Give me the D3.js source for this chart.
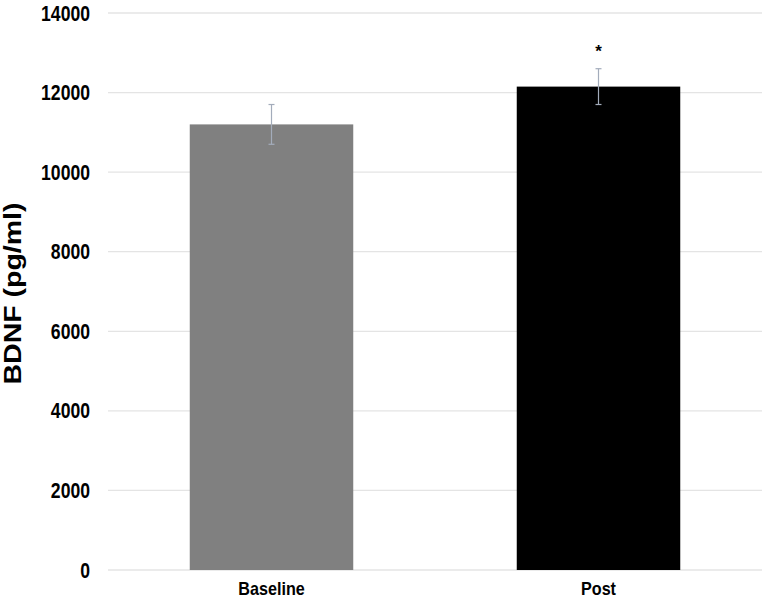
<!DOCTYPE html>
<html>
<head>
<meta charset="utf-8">
<script src="https://cdn.jsdelivr.net/npm/d3@7"></script>
<style>
  body { margin: 0; background: #fff; }
  .tick text { font-family: "Liberation Sans", Arial, sans-serif; font-weight: bold; }
</style>
</head>
<body>
<div id="chart"></div>
<script>
// data
var groups = ["Baseline", "Post"];
var means = [11200, 12150];
var errors = [500, 450];
var colors = ["#808080", "#000000"];
var marks = ["", "*"];
var yTicks = [0, 2000, 4000, 6000, 8000, 10000, 12000, 14000];

var W = 762, H = 604;
var margin = {top: 13, right: 0, bottom: 34, left: 108},
    width = W - margin.left - margin.right,
    height = H - margin.top - margin.bottom;

var svg = d3.select("#chart")
  .append("svg")
  .attr("width", W)
  .attr("height", H)
  .append("g")
  .attr("transform", "translate(" + margin.left + "," + margin.top + ")");

var y = d3.scaleLinear().domain([0, 14000]).range([height, 0]);
var x = d3.scaleBand().domain(groups).range([0, width]).paddingInner(0.5).paddingOuter(0.25);

// squeeze text to look like a narrow font
function narrow(sel, k) {
  sel.each(function() {
    var len = this.getComputedTextLength();
    d3.select(this).attr("textLength", len * k).attr("lengthAdjust", "spacingAndGlyphs");
  });
}

// gridlines
svg.selectAll("line.grid")
  .data(yTicks)
  .enter()
  .append("line")
    .attr("class", "grid")
    .attr("x1", 0)
    .attr("x2", width)
    .attr("y1", function(d) { return y(d); })
    .attr("y2", function(d) { return y(d); })
    .attr("stroke", "#e4e4e4")
    .attr("stroke-width", 1.3);

// y axis labels
var yAxis = svg.append("g")
  .call(d3.axisLeft(y).tickValues(yTicks).tickSize(0).tickPadding(18).tickFormat(d3.format("d")));
yAxis.select(".domain").remove();
yAxis.selectAll("text").style("font-size", "22px").attr("fill", "#000").call(narrow, 0.8);

// bars
svg.selectAll("rect.bar")
  .data(groups)
  .enter()
  .append("rect")
    .attr("class", "bar")
    .attr("x", function(d) { return x(d); })
    .attr("width", x.bandwidth())
    .attr("y", function(d, i) { return y(means[i]); })
    .attr("height", function(d, i) { return height - y(means[i]); })
    .attr("fill", function(d, i) { return colors[i]; });

// error bars
var eb = svg.selectAll("g.err")
  .data(groups)
  .enter()
  .append("g")
    .attr("class", "err")
    .attr("stroke", "#a3acbb")
    .attr("stroke-width", 1.2);

eb.append("line")
  .attr("x1", function(d) { return x(d) + x.bandwidth() / 2; })
  .attr("x2", function(d) { return x(d) + x.bandwidth() / 2; })
  .attr("y1", function(d, i) { return y(means[i] + errors[i]); })
  .attr("y2", function(d, i) { return y(means[i] - errors[i]); });

eb.append("line")
  .attr("x1", function(d) { return x(d) + x.bandwidth() / 2 - 3; })
  .attr("x2", function(d) { return x(d) + x.bandwidth() / 2 + 3; })
  .attr("y1", function(d, i) { return y(means[i] + errors[i]); })
  .attr("y2", function(d, i) { return y(means[i] + errors[i]); });

eb.append("line")
  .attr("x1", function(d) { return x(d) + x.bandwidth() / 2 - 3; })
  .attr("x2", function(d) { return x(d) + x.bandwidth() / 2 + 3; })
  .attr("y1", function(d, i) { return y(means[i] - errors[i]); })
  .attr("y2", function(d, i) { return y(means[i] - errors[i]); });

// significance marks
svg.selectAll("text.sig")
  .data(groups)
  .enter()
  .append("text")
    .attr("class", "sig")
    .attr("x", function(d) { return x(d) + x.bandwidth() / 2; })
    .attr("y", function(d, i) { return y(means[i] + errors[i]) - 12; })
    .attr("text-anchor", "middle")
    .style("font-family", "Liberation Sans, Arial, sans-serif")
    .style("font-weight", "bold")
    .style("font-size", "17px")
    .text(function(d, i) { return marks[i]; });

// x axis labels
var xAxis = svg.append("g")
  .attr("transform", "translate(0," + height + ")")
  .call(d3.axisBottom(x).tickSize(0).tickPadding(12));
xAxis.select(".domain").remove();
xAxis.selectAll("text").style("font-size", "19px").attr("fill", "#000").call(narrow, 0.85);

// y title
svg.append("text")
  .attr("transform", "translate(" + (-87) + "," + (height / 2 + 2) + ")rotate(-90)")
  .attr("text-anchor", "middle")
  .style("font-family", "Liberation Sans, Arial, sans-serif")
  .style("font-weight", "bold")
  .style("font-size", "24px")
  .attr("textLength", 182)
  .attr("lengthAdjust", "spacingAndGlyphs")
  .text("BDNF (pg/ml)");
</script>
</body>
</html>
